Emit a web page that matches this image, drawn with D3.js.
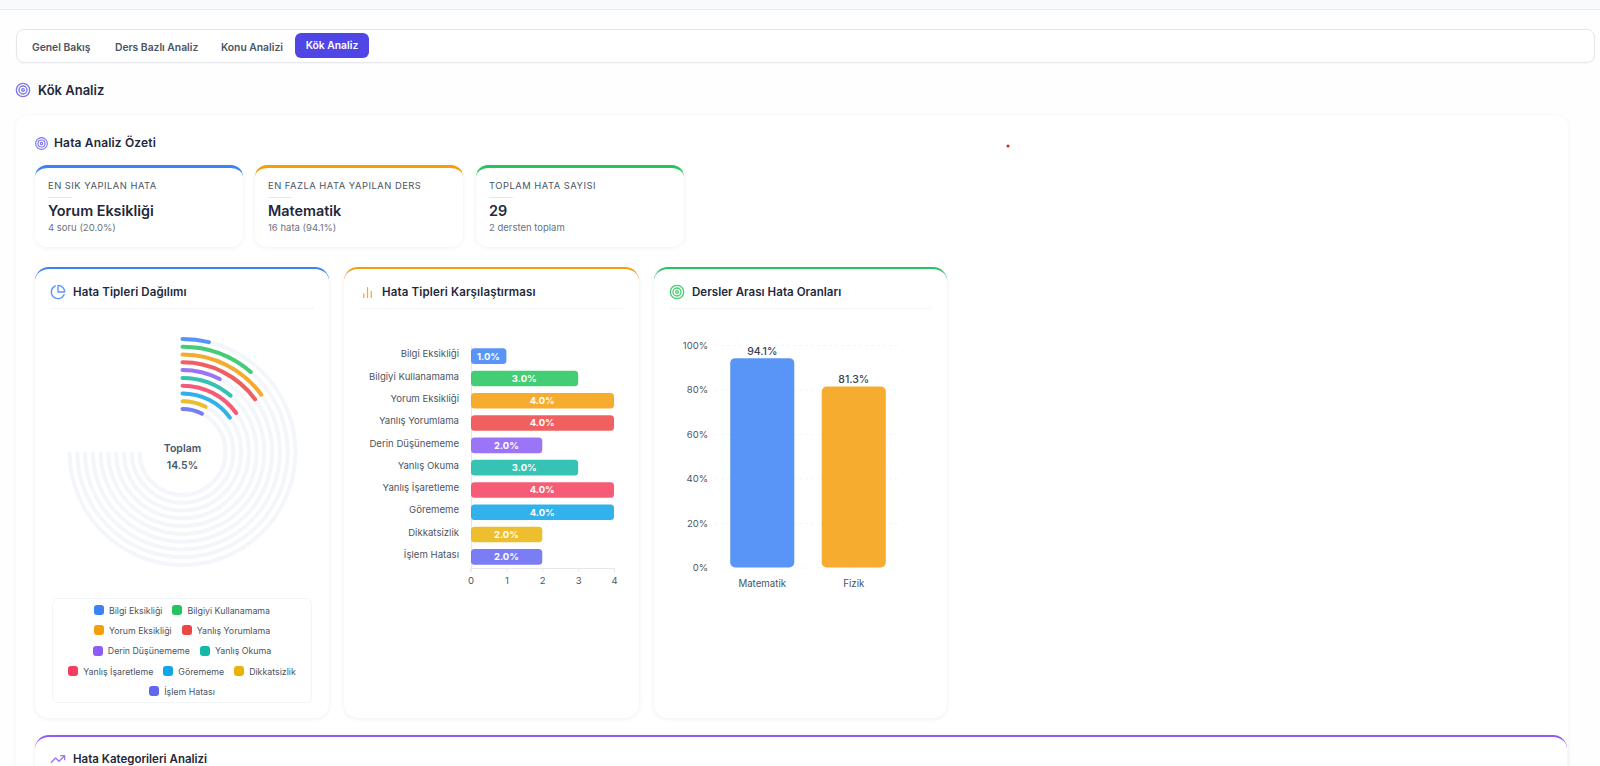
<!DOCTYPE html>
<html lang="tr">
<head>
<meta charset="utf-8">
<title>Kök Analiz</title>
<script src="https://cdn.jsdelivr.net/npm/d3@7"></script>
<style>
  * { box-sizing: border-box; }
  html, body { margin: 0; width: 1600px; height: 766px; overflow: hidden; background: #fefefe; font-family: Inter, sans-serif; color: #1f2937; }
  .abs { position: absolute; }
  .card { position: absolute; background: #fff; border-radius: 12px; box-shadow: 0 1px 5px rgba(15, 23, 42, .05); }
  .head { position: absolute; font-weight: 600; color: #1e293b; white-space: nowrap; line-height: 1; }
  .topbar { left: 0; top: 0; width: 1600px; height: 10px; background: #f8fafc; border-bottom: 1px solid #e8edf3; }
  .tabs { left: 16px; top: 29px; width: 1579px; height: 34px; border: 1px solid #e5e7eb; border-radius: 8px; background: #fff; box-shadow: 0 1px 2px rgba(0,0,0,.03); }
  .tab { position: absolute; top: 40px; font-size: 10.3px; font-weight: 600; color: #4b5563; white-space: nowrap; line-height: 14px; }
  .tab.on { top: 33px; left: 295px; width: 74px; height: 25px; line-height: 25px; text-align: center; background: #4f46e5; color: #fff; border-radius: 6px; }
  .sum { position: absolute; top: 165px; height: 82px; width: 208px; background: #fff; border-radius: 12px; border-top: 3px solid; box-shadow: 0 1px 5px rgba(15,23,42,.06); }
  .sum .lab { position: absolute; left: 13px; top: 12px; font-size: 9.4px; color: #4b5563; letter-spacing: .5px; white-space: nowrap; line-height: 12px; }
  .sum .rule { position: absolute; left: 13px; top: 29px; width: 24px; height: 1px; background: #e2e8f0; }
  .sum .val { position: absolute; left: 13px; top: 34px; font-size: 14.4px; font-weight: 600; color: #1e293b; white-space: nowrap; line-height: 18px; }
  .sum .note { position: absolute; left: 13px; top: 54px; font-size: 9.5px; color: #6b7280; white-space: nowrap; line-height: 12px; }
  .panel { position: absolute; top: 267px; height: 451px; background: #fff; border-radius: 14px; border-top: 2px solid; box-shadow: 0 1px 5px rgba(15,23,42,.07); }
  .rule-h { position: absolute; top: 308px; height: 1px; background: #f1f5f9; }
  #legend { left: 52px; top: 598px; width: 260px; height: 105px; border: 1px solid #f1f5f9; border-radius: 6px; display: flex; flex-wrap: wrap; justify-content: center; align-content: flex-start; padding: 1px 2px 0; }
  .leg { display: flex; align-items: center; height: 20.3px; margin: 0 5px; font-size: 8.8px; color: #4b5563; white-space: nowrap; }
  .leg i { width: 10px; height: 10px; border-radius: 3px; margin-right: 5px; display: block; }
  svg.layer { position: absolute; left: 0; top: 0; }
  .axis text { font-family: Inter, sans-serif; }
  .icon { fill: none; stroke-linecap: round; stroke-linejoin: round; stroke-width: 2; }
</style>
</head>
<body>
<div class="abs topbar"></div>
<div class="abs tabs"></div>
<div class="tab" style="left:32px">Genel Bakış</div>
<div class="tab" style="left:115px">Ders Bazlı Analiz</div>
<div class="tab" style="left:221px">Konu Analizi</div>
<div class="tab on">Kök Analiz</div>

<div class="head" style="left:38px;top:84px;font-size:13px">Kök Analiz</div>

<div class="card" style="left:16px;top:115px;width:1552px;height:680px"></div>
<div class="head" style="left:54px;top:137px;font-size:12px;letter-spacing:.15px">Hata Analiz Özeti</div>

<div id="summary"></div>

<div class="panel" style="left:35px;width:294px;border-color:#3b82f6"></div>
<div class="panel" style="left:344px;width:295px;border-color:#f59e0b"></div>
<div class="panel" style="left:654px;width:293px;border-color:#22c55e"></div>
<div class="rule-h" style="left:51px;width:263px"></div>
<div class="rule-h" style="left:360px;width:263px"></div>
<div class="rule-h" style="left:670px;width:261px"></div>
<div class="head" style="left:73px;top:287px;font-size:11.5px;letter-spacing:.1px">Hata Tipleri Dağılımı</div>
<div class="head" style="left:382px;top:287px;font-size:11.5px;letter-spacing:.15px">Hata Tipleri Karşılaştırması</div>
<div class="head" style="left:692px;top:287px;font-size:11.5px;letter-spacing:.05px">Dersler Arası Hata Oranları</div>

<div class="panel" style="left:35px;top:735px;width:1532px;height:80px;border-color:#8b5cf6"></div>
<div class="head" style="left:73px;top:754px;font-size:11.5px">Hata Kategorileri Analizi</div>

<div class="abs" id="legend"></div>
<svg class="layer" id="chart" width="1600" height="766"></svg>

<script>
var errorTypes = ['Bilgi Eksikliği', 'Bilgiyi Kullanamama', 'Yorum Eksikliği', 'Yanlış Yorumlama', 'Derin Düşünememe', 'Yanlış Okuma', 'Yanlış İşaretleme', 'Görememe', 'Dikkatsizlik', 'İşlem Hatası'];
var errorCounts = [1, 3, 4, 4, 2, 3, 4, 4, 2, 2];
var errorShares = [5, 15, 20, 20, 10, 15, 20, 20, 10, 10];
var errorColors = ['#3b82f6', '#22c55e', '#f59e0b', '#ef4444', '#8b5cf6', '#14b8a6', '#f43f5e', '#0ea5e9', '#eab308', '#6366f1'];
var countTicks = [0, 1, 2, 3, 4];

var subjects = ['Matematik', 'Fizik'];
var subjectRates = [94.1, 81.3];
var subjectColors = ['#3b82f6', '#f59e0b'];
var rateTicks = [0, 20, 40, 60, 80, 100];

var summaryLabels = ['EN SIK YAPILAN HATA', 'EN FAZLA HATA YAPILAN DERS', 'TOPLAM HATA SAYISI'];
var summaryValues = ['Yorum Eksikliği', 'Matematik', '29'];
var summaryNotes = ['4 soru (20.0%)', '16 hata (94.1%)', '2 dersten toplam'];
var summaryColors = ['#3b82f6', '#f59e0b', '#22c55e'];
var summaryLefts = [35, 255, 476];

var svg = d3.select('#chart');

// summary cards
d3.select('#summary').selectAll('.sum')
  .data(summaryLabels)
  .join('div')
  .attr('class', 'sum')
  .style('left', (d, i) => summaryLefts[i] + 'px')
  .style('border-color', (d, i) => summaryColors[i])
  .each(function(d, i) {
    var card = d3.select(this);
    card.append('div').attr('class', 'lab').text(d);
    card.append('div').attr('class', 'rule');
    card.append('div').attr('class', 'val').text(summaryValues[i]);
    card.append('div').attr('class', 'note').text(summaryNotes[i]);
  });

// icons, lucide style on a 24 unit box
function icon(x, y, size, color, draw) {
  var g = svg.append('g')
    .attr('class', 'icon')
    .attr('stroke', color)
    .attr('transform', 'translate(' + x + ',' + y + ') scale(' + size / 24 + ')');
  draw(g);
}
function target(g) {
  [10, 6, 2].forEach(r => g.append('circle').attr('cx', 12).attr('cy', 12).attr('r', r));
}
function pie(g) {
  g.append('path').attr('d', 'M21.21 15.89A10 10 0 1 1 8 2.83');
  g.append('path').attr('d', 'M22 12A10 10 0 0 0 12 2v10z');
}
function bars(g) {
  g.append('path').attr('d', 'M18 20V10M12 20V4M6 20v-6');
}
function trend(g) {
  g.append('path').attr('d', 'M22 7L13.5 15.5 8.5 10.5 2 17M16 7h6v6');
}
icon(15, 82, 16, '#7d78ea', target);
icon(34.5, 136.5, 14, '#7d78ea', target);
icon(50, 284, 16, '#5b94f6', pie);
icon(360, 285, 15, '#f6ab2f', bars);
icon(669, 284, 16, '#47cf73', target);
icon(50, 751, 16, '#9f72f7', trend);

// red dot sitting on the main card
svg.append('circle').attr('cx', 1008).attr('cy', 146).attr('r', 1.5).attr('fill', '#d81e1e');

// radial bars, d3.path keeps the arc open so the caps come out round
var radial = svg.append('g').attr('transform', 'translate(182.5,452)');
var ring = d3.scalePoint().domain(errorTypes).range([113, 43]);
var sweep = d3.scaleLinear().domain([0, 100]).range([0, Math.PI * 1.5]);
var rows = errorTypes.map((name, i) => ({name, value: errorShares[i], color: errorColors[i]}));

function ringPath(name, value) {
  var p = d3.path();
  p.arc(0, 0, ring(name), -Math.PI / 2, -Math.PI / 2 + sweep(value));
  return p.toString();
}

radial.selectAll('.track')
  .data(rows)
  .join('path')
  .attr('class', 'track')
  .attr('fill', 'none')
  .attr('stroke', '#f3f6fa')
  .attr('stroke-width', 4)
  .attr('d', d => ringPath(d.name, 100));
radial.selectAll('.value')
  .data(rows)
  .join('path')
  .attr('class', 'value')
  .attr('fill', 'none')
  .attr('stroke', d => d.color)
  .attr('stroke-opacity', 0.85)
  .attr('stroke-width', 4)
  .attr('stroke-linecap', 'round')
  .attr('d', d => ringPath(d.name, d.value));

radial.append('text').attr('text-anchor', 'middle').attr('y', 0)
  .attr('font-size', 10.5).attr('font-weight', 600).attr('fill', '#475569').text('Toplam');
radial.append('text').attr('text-anchor', 'middle').attr('y', 17)
  .attr('font-size', 10.5).attr('font-weight', 600).attr('fill', '#475569')
  .text(d3.mean(errorShares).toFixed(1) + '%');

// legend
var leg = d3.select('#legend').selectAll('.leg')
  .data(rows)
  .join('div')
  .attr('class', 'leg');
leg.append('i').style('background', d => d.color);
leg.append('span').text(d => d.name);

// horizontal bars
var hx = d3.scaleLinear().domain([0, 4]).range([470.5, 614]);
var hy = d3.scaleBand().domain(errorTypes).range([345, 568]).paddingInner(0.3).paddingOuter(0.15);

var hBottom = svg.append('g').attr('class', 'axis')
  .attr('transform', 'translate(0,568)')
  .call(d3.axisBottom(hx).tickValues(countTicks).tickSize(4).tickPadding(5).tickFormat(d3.format('d')));
hBottom.select('.domain').attr('stroke', '#e5e7eb');
hBottom.selectAll('.tick line').attr('stroke', '#e5e7eb');
hBottom.selectAll('text').attr('font-size', 9.5).attr('fill', '#4b5563');

var hLeft = svg.append('g').attr('class', 'axis')
  .attr('transform', 'translate(471,0)')
  .call(d3.axisLeft(hy).tickSize(0).tickPadding(12));
hLeft.select('.domain').attr('stroke', '#e5e7eb');
hLeft.selectAll('text').attr('font-size', 9.6).attr('fill', '#4b5563').attr('dy', '0.12em');

svg.selectAll('.hbar')
  .data(rows)
  .join('rect')
  .attr('class', 'hbar')
  .attr('x', hx(0) + 0.5)
  .attr('y', d => hy(d.name))
  .attr('width', (d, i) => hx(errorCounts[i]) - hx(0) - 0.5)
  .attr('height', hy.bandwidth())
  .attr('rx', 3.5)
  .attr('fill', d => d.color)
  .attr('fill-opacity', 0.85);
svg.selectAll('.hlabel')
  .data(rows)
  .join('text')
  .attr('class', 'hlabel')
  .attr('x', (d, i) => (hx(errorCounts[i]) + hx(0)) / 2)
  .attr('y', d => hy(d.name) + hy.bandwidth() / 2)
  .attr('dy', '0.36em')
  .attr('text-anchor', 'middle')
  .attr('font-size', 9.5)
  .attr('font-weight', 700)
  .attr('fill', '#fff')
  .text((d, i) => errorCounts[i].toFixed(1) + '%');

// subject rates
var cx = d3.scaleBand().domain(subjects).range([716.5, 899.5]).paddingInner(0.3).paddingOuter(0.15);
var cy = d3.scaleLinear().domain([0, 100]).range([567.5, 345]);

var cLeft = svg.append('g').attr('class', 'axis')
  .attr('transform', 'translate(715,0)')
  .call(d3.axisLeft(cy).tickValues(rateTicks).tickSize(-183).tickPadding(7).tickFormat(d => d + '%'));
cLeft.select('.domain').remove();
cLeft.selectAll('.tick line').attr('stroke', '#f4f6f9').attr('stroke-dasharray', '3,3');
cLeft.selectAll('text').attr('font-size', 9.5).attr('fill', '#4b5563');

var cBottom = svg.append('g').attr('class', 'axis')
  .attr('transform', 'translate(0,567.5)')
  .call(d3.axisBottom(cx).tickSize(0).tickPadding(13));
cBottom.select('.domain').remove();
cBottom.selectAll('text').attr('font-size', 9.7).attr('fill', '#4b5563');

svg.selectAll('.cbar')
  .data(subjects)
  .join('rect')
  .attr('class', 'cbar')
  .attr('x', d => cx(d))
  .attr('y', (d, i) => cy(subjectRates[i]))
  .attr('width', cx.bandwidth())
  .attr('height', (d, i) => cy(0) - cy(subjectRates[i]))
  .attr('rx', 5)
  .attr('fill', (d, i) => subjectColors[i])
  .attr('fill-opacity', 0.85);
svg.selectAll('.clabel')
  .data(subjects)
  .join('text')
  .attr('class', 'clabel')
  .attr('x', d => cx(d) + cx.bandwidth() / 2)
  .attr('y', (d, i) => cy(subjectRates[i]) - 3.5)
  .attr('text-anchor', 'middle')
  .attr('font-size', 10.5)
  .attr('font-weight', 500)
  .attr('fill', '#374151')
  .text((d, i) => subjectRates[i].toFixed(1) + '%');
</script>
</body>
</html>
